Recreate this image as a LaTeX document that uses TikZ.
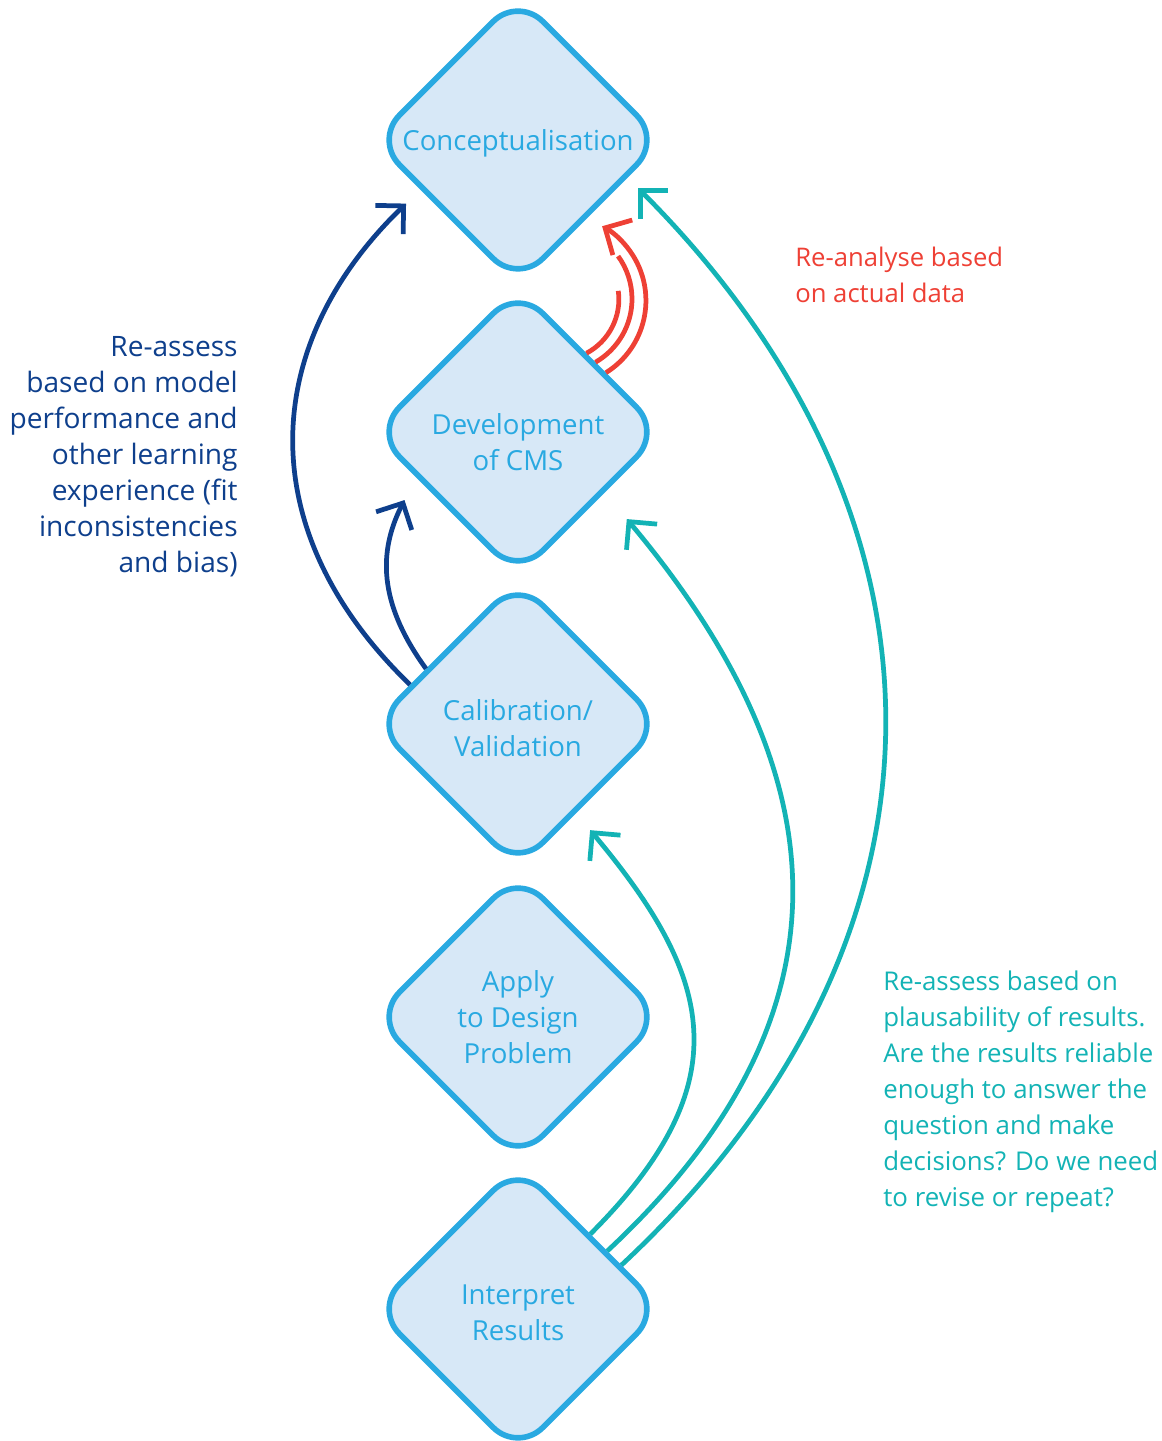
\documentclass[tikz,border=0pt]{standalone}
\usepackage{fontspec}
\setmainfont{Open Sans}
\usetikzlibrary{shapes.geometric,arrows.meta}
\definecolor{boxfill}{HTML}{D7E8F7}
\definecolor{boxline}{HTML}{29A9E1}
\definecolor{darkblue}{HTML}{0E3F8C}
\definecolor{tealline}{HTML}{13B3B5}
\definecolor{redline}{HTML}{EE4035}
% invisible strut, pushes the lines of a box a bit down
\newcommand{\pushdown}[1]{\rule{0pt}{#1}}

\begin{document}
\begin{tikzpicture}[x=0.02cm,y=0.02cm,
  box/.style={draw=boxline, fill=boxfill, diamond, aspect=1, minimum size=5.78cm,
    inner sep=0pt, rounded corners=0.7cm, line width=3.2pt, text=boxline,
    align=center, text depth=0pt, font=\fontsize{15.7}{20.5}\selectfont},
  back/.style={line width=2.7pt, -{Straight Barb[length=4mm,width=8mm]}},
  note/.style={inner sep=0pt}]
\useasboundingbox (0,0) rectangle (1161,1441);
\node[box] (1) at (518,1301) {Conceptualisation};
\node[box] (2) at (518,1009) {\pushdown{23.3pt}Development\\of CMS};
\node[box] (3) at (518,717) {\pushdown{16.5pt}Calibration/\\Validation};
\node[box] (4) at (518,424) {Apply\\to Design\\Problem};
\node[box] (5) at (518,132) {\pushdown{15.8pt}Interpret\\Results};
% re-assess from calibration
\path[draw,back,darkblue,shorten >=0.4cm] (3.160) to[out=136,in=-136,looseness=1.15] (1.207);
\path[draw,back,darkblue,shorten >=0.51cm] (3.149) to[out=126,in=-117,looseness=1.1] (2.204.5);
% re-analyse
\path[draw,line width=2.7pt,redline] (2.49) arc[start angle=-62,end angle=8,radius=61];
\path[draw,line width=2.7pt,redline] (2.42) arc[start angle=-60,end angle=36,radius=73];
\path[draw,back,redline] (2.34) arc[start angle=-58,end angle=61,radius=85];
% re-assess from results
\path[draw,back,tealline,shorten >=0.44cm] (5.46) to[out=45,in=-50,looseness=1.3] (3.-57);
\path[draw,back,tealline,shorten >=0.69cm] (5.33) to[out=43,in=-50,looseness=1.2] (2.-35);
\path[draw,back,tealline,shorten >=0.29cm] (5.23) to[out=43,in=-45,looseness=1.13] (1.-19.5);
\node[note,darkblue,align=right,anchor=east,font=\fontsize{16}{20.5}\selectfont] at (238,984) {Re-assess\\based on model\\performance and\\other learning\\experience (fit\\inconsistencies\\and bias)};
\node[note,redline,align=left,anchor=west,font=\fontsize{14.6}{20.5}\selectfont] at (795,1166) {Re-analyse based\\on actual data};
\node[note,tealline,align=left,anchor=west,font=\fontsize{14.7}{20.5}\selectfont] at (883,349) {Re-assess based on\\plausability of results.\\Are the results reliable\\enough to answer the\\question and make\\decisions? Do we need\\to revise or repeat?};
\end{tikzpicture}
\end{document}
